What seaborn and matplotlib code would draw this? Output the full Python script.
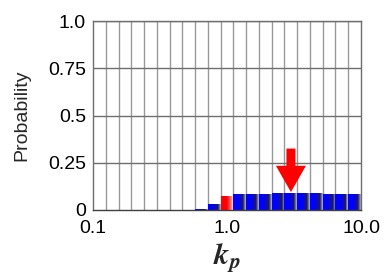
import numpy as np
import pandas as pd
import matplotlib
matplotlib.use("Agg")
import matplotlib.pyplot as plt
import seaborn as sns
from matplotlib.colors import LinearSegmentedColormap

# bins: 21 log-spaced bins between 0.1 and 10, centred on 10**(-1 + 0.1*i)
bin_centers = 10 ** np.linspace(-1, 1, 21)
probability = [0, 0, 0, 0, 0, 0, 0, 0, 0.005, 0.030, 0.074,
               0.083, 0.083, 0.085, 0.088, 0.090, 0.090, 0.089, 0.087, 0.085, 0.085]
highlight_bin = 10  # kp = 1.0 drawn in red
arrow_kp = 3.0
arrow_top, arrow_tip = 0.325, 0.095

ytick_vals = [0, 0.25, 0.5, 0.75, 1.0]
ytick_labels = ["0", "0.25", "0.5", "0.75", "1.0"]
xtick_vals = [0.1, 1.0, 10.0]
xtick_labels = ["0.1", "1.0", "10.0"]

df = pd.DataFrame({"kp": bin_centers, "prob": probability})

sns.set_style("white")
plt.rcParams["font.family"] = ["Liberation Sans", "DejaVu Sans"]
plt.rcParams["mathtext.fontset"] = "stix"

fig = plt.figure(figsize=(3.85, 2.74), dpi=100)
ax = fig.add_axes([93 / 385, 1 - 210 / 274, 268 / 385, 189 / 274])

sns.histplot(data=df, x="kp", weights="prob", bins=21, binrange=(-1, 1),
             log_scale=True, stat="count", element="bars", ax=ax,
             color="blue", alpha=1, linewidth=0)

blue_cmap = LinearSegmentedColormap.from_list(
    "bl", [(0, (0, 0, 1)), (0.4, (0, 0, 1)), (0.78, (0.1, 0.1, 0.38)), (1, (0.72, 0.72, 0.78))])
red_cmap = LinearSegmentedColormap.from_list(
    "rd", [(0, (1, 0, 0)), (0.5, (1, 0, 0)), (1, (1, 0.82, 0.82))])

# replace the flat bars by a left-to-right shading, strip by strip
bars = list(ax.patches)
for i, p in enumerate(bars):
    h = p.get_height()
    p.set_visible(False)
    if h <= 0:
        continue
    x0 = p.get_x()
    x1 = x0 + p.get_width()
    cmap = red_cmap if i == highlight_bin else blue_cmap
    n = 14
    edges = np.logspace(np.log10(x0), np.log10(x1), n + 1)
    for k in range(n):
        ax.bar(edges[k], h, width=edges[k + 1] - edges[k], align="edge",
               color=cmap((k + 0.5) / n), linewidth=0, zorder=2)

# grid lines at the bin edges and quarter probabilities
edges_all = 10 ** np.linspace(-1, 1, 22)
for e in edges_all[1:-1]:
    ax.axvline(e, color="#999999", lw=1, zorder=1)
for yv in ytick_vals[1:]:
    ax.axhline(yv, color="#6e6e6e", lw=1, zorder=1)

ax.annotate("", xy=(arrow_kp, arrow_tip), xytext=(arrow_kp, arrow_top),
            arrowprops=dict(arrowstyle="simple,head_length=1.05,head_width=1.2,tail_width=0.36",
                            mutation_scale=18, color="red", lw=0,
                            shrinkA=0, shrinkB=0), zorder=5)

ax.set_xlim(0.1, 10)
ax.set_ylim(0, 1)
ax.set_xticks(xtick_vals)
ax.set_xticklabels(xtick_labels)
ax.xaxis.set_minor_locator(matplotlib.ticker.NullLocator())
ax.set_yticks(ytick_vals)
ax.set_yticklabels(ytick_labels)
ax.tick_params(axis="both", length=0, labelsize=14, colors="black")
ax.tick_params(axis="x", pad=7)
ax.tick_params(axis="y", pad=5)

for s in ax.spines.values():
    s.set_color("#6e6e6e")
    s.set_linewidth(1)
ax.spines["bottom"].set_color("#404040")

ax.set_ylabel("Probability", fontsize=14)
ax.yaxis.set_label_coords(-0.235, 0.5)
ax.set_xlabel(r"$\mathbfit{k}_{\mathbfit{p}}$", fontsize=22, labelpad=3)

fig.savefig("out.png", dpi=100)
